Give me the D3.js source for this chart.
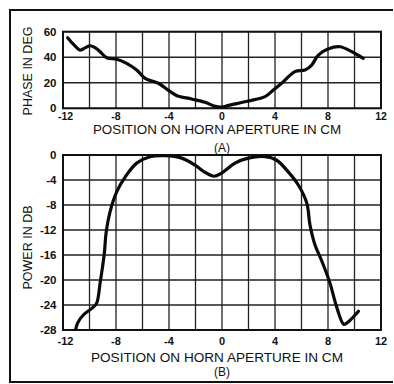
<!DOCTYPE html>
<html><head><meta charset="utf-8">
<script src="https://cdn.jsdelivr.net/npm/d3@7"></script>
<style>body{margin:0;background:#fff}svg{display:block}text{font-family:"Liberation Sans",Arial,sans-serif;fill:#111}</style>
</head><body>
<script>
const xTicks = [-12, -8, -4, 0, 4, 8, 12];
const phaseTicks = [0, 20, 40, 60];
const powerTicks = [0, -4, -8, -12, -16, -20, -24, -28];
const phaseX = [-11.65, -11.2, -10.7, -10.3, -9.96, -9.5, -9.2, -8.7, -7.95, -7.2, -6.44, -5.8, -4.8, -3.9, -3.4, -2.3, -1.28, -0.5, 0, 0.5, 1.98, 3.25, 3.87, 4.5, 5.5, 6.26, 6.77, 7.27, 8.0, 8.9, 9.8, 10.66];
const phaseY = [55.3, 50, 45.6, 47.5, 49, 47, 44.3, 39.6, 38.4, 35.2, 30, 23.5, 19.6, 13, 9.9, 7.3, 4.7, 1.5, 1, 2.3, 5.7, 9.1, 14.3, 19.6, 28.7, 30, 33.9, 41.7, 46.4, 48.2, 44.3, 39.1];
const powerX = [-11.04, -10.9, -10.47, -9.8, -9.46, -9.2, -8.88, -8.75, -8.45, -7.95, -7.3, -6.44, -5.43, -4.3, -3.04, -2.04, -1.28, -0.6, -0.03, 0.98, 1.98, 3.25, 4.1, 5.0, 5.76, 6.4, 6.64, 7.02, 7.5, 8.15, 8.65, 9.2, 9.53, 10.3];
const powerY = [-27.9, -26.9, -25.6, -24.5, -23.7, -20.5, -15.7, -12.5, -9.1, -5.9, -3.5, -1.3, -0.27, -0.1, -0.5, -1.6, -2.77, -3.4, -2.9, -1.3, -0.5, -0.27, -0.8, -2.7, -4.8, -7.7, -11.2, -14.4, -16.8, -20.5, -24.3, -27.1, -26.7, -25];
const xTitle = "POSITION ON HORN APERTURE IN CM";

const W = 394, H = 384;
const svg = d3.select("body").append("svg").attr("width", W).attr("height", H);
svg.append("rect").attr("width", W).attr("height", H).attr("fill", "#fff");
svg.append("path").attr("d", "M393,10H10V382H393").attr("fill", "none").attr("stroke", "#111").attr("stroke-width", 2);

const x = d3.scaleLinear().domain([-12, 12]).range([63, 381]);

function panel(y, yTicks, gridStep, xs, ys, yLabel, yLabelY, tickBase, tickSize, titleBase, titleSize, tag, tagBase) {
  const [y0, y1] = y.domain();
  const g = svg.append("g");
  g.selectAll("line.v").data(d3.range(-12, 12.01, 2)).join("line")
    .attr("x1", d => x(d)).attr("x2", d => x(d))
    .attr("y1", y(y0)).attr("y2", y(y1))
    .attr("stroke", "#222").attr("stroke-width", 1.3);
  g.selectAll("line.h").data(d3.range(Math.min(y0, y1), Math.max(y0, y1) + 0.01, gridStep)).join("line")
    .attr("y1", d => y(d)).attr("y2", d => y(d))
    .attr("x1", x(-12)).attr("x2", x(12))
    .attr("stroke", "#222").attr("stroke-width", 1.3);
  g.append("rect").attr("x", x(-12)).attr("y", Math.min(y(y0), y(y1)))
    .attr("width", x(12) - x(-12)).attr("height", Math.abs(y(y0) - y(y1)))
    .attr("fill", "none").attr("stroke", "#111").attr("stroke-width", 2);
  g.selectAll("text.yt").data(yTicks).join("text")
    .attr("x", 56.5).attr("y", d => y(d) + 4).attr("text-anchor", "end")
    .attr("font-size", 11.5).attr("font-weight", "bold").text(d => d < 0 ? "-" + Math.abs(d) : d);
  g.selectAll("text.xt").data(xTicks).join("text")
    .attr("x", d => x(d) + (d === -12 ? 2.5 : 0)).attr("y", tickBase).attr("text-anchor", "middle")
    .attr("font-size", tickSize).attr("font-weight", "bold").text(d => d < 0 ? "-" + Math.abs(d) : d);
  g.append("text").attr("x", 217).attr("y", titleBase).attr("text-anchor", "middle")
    .attr("font-size", titleSize).text(xTitle);
  g.append("text").attr("x", 222).attr("y", tagBase).attr("text-anchor", "middle")
    .attr("font-size", 12).text(tag);
  g.append("text").attr("transform", `translate(32,${yLabelY}) rotate(-90)`)
    .attr("text-anchor", "middle").attr("font-size", 12.5).text(yLabel);
  const line = d3.line().x(d => x(d[0])).y(d => y(d[1])).curve(d3.curveCatmullRom.alpha(0.5));
  g.append("path").datum(xs.map((v, i) => [v, ys[i]])).attr("d", line)
    .attr("fill", "none").attr("stroke", "#0a0a0a").attr("stroke-width", 3.2)
    .attr("stroke-linecap", "round").attr("stroke-linejoin", "round");
}

const yPhase = d3.scaleLinear().domain([0, 60]).range([108.3, 31.7]);
const yPower = d3.scaleLinear().domain([-28, 0]).range([330, 155]);
panel(yPhase, phaseTicks, 20, phaseX, phaseY, "PHASE IN DEG", 71, 119.5, 10.5, 134, 13.4, "(A)", 151.5);
panel(yPower, powerTicks, 4, powerX, powerY, "POWER IN DB", 247.5, 345, 11, 362, 13.6, "(B)", 375.5);
</script>
</body></html>
